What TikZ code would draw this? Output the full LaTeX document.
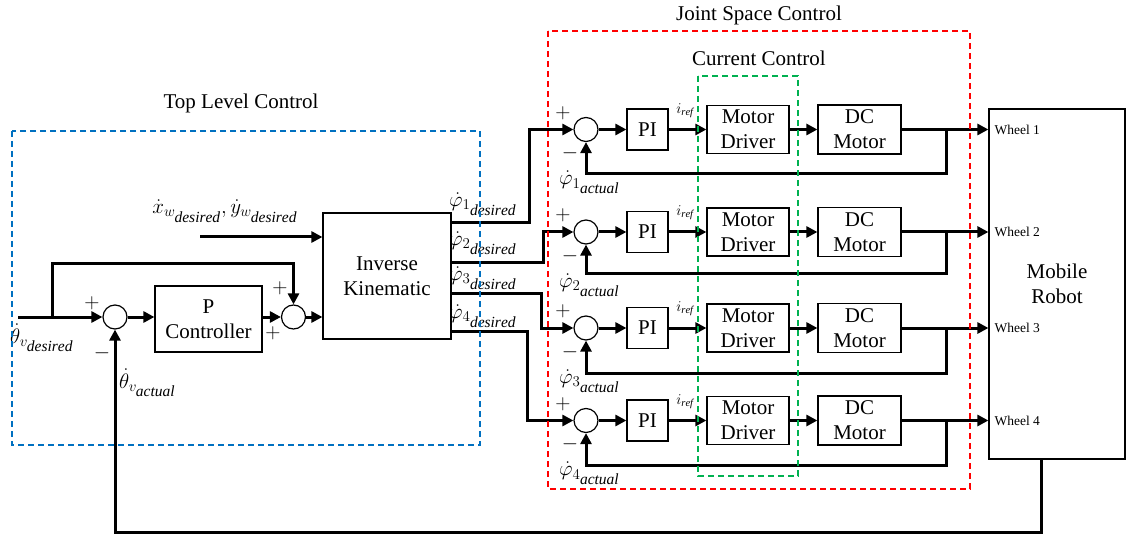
\RequirePackage{fix-cm}
\documentclass[tikz,border=0pt]{standalone}
\usepackage{fontspec}
\setmainfont{Liberation Serif}
\usetikzlibrary{arrows.meta,calc}
\DeclareMathSizes{21}{21}{15}{15.5}
\definecolor{toplevel}{RGB}{0,112,192}
\definecolor{jointspace}{RGB}{255,0,0}
\definecolor{current}{RGB}{0,176,80}

\begin{document}
\begin{tikzpicture}[x=1pt,y=-1pt,
  every node/.style={font=\fontsize{21}{25}\selectfont, inner sep=0pt},
  blk/.style={draw, line width=1.2pt, align=center},
  sumj/.style={circle, draw, line width=1.2pt, minimum size=24pt},
  thk/.style={line width=3pt},
  flow/.style={thk, -{Triangle[length=11pt,width=11pt]}},
  region/.style={dash pattern=on 6pt off 4pt, line width=1.3pt},
  small/.style={font=\fontsize{13.5}{16}\selectfont}]
\useasboundingbox (0,0) rectangle (1126,537);

% ---------- top level control ----------
\node[sumj] (sum1) at (115,317) {};
\node[blk, minimum width=107pt, minimum height=66pt] (pc) at (208.5,319) {P\\Controller};
\node[sumj] (sum2) at (293.5,317) {};
\node[blk, minimum width=128pt, minimum height=126pt] (ik) at (387,276) {Inverse\\Kinematic};

\coordinate (vin) at (18,317);
\coordinate (vbr) at (52,317);
\coordinate (xin) at (200,237);
\draw[flow] (vin) -- (sum1.west);
\draw[flow] (vbr) -- ++(0,-54) -| (sum2.north);
\draw[flow] (sum1.east) -- (pc.west |- sum1.east);
\draw[flow] (pc.east |- sum2.west) -- (sum2.west);
\draw[flow] (sum2.east) -- (ik.west |- sum2.east);
\draw[flow] (xin) -- (ik.west |- xin);

\node[anchor=west] at (10,338) {$\dot{\theta}_{v_{\mathit{desired}}}$};
\node[anchor=west] at (119,383) {$\dot{\theta}_{v_{\mathit{actual}}}$};
\node at (225,211) {$\dot{x}_{w_{\mathit{desired}}},\dot{y}_{w_{\mathit{desired}}}$};
\node at (92,303) {$+$};
\node at (102,353) {$-$};
\node at (280,288) {$+$};
\node at (273,333) {$+$};

% ---------- mobile robot ----------
\node[blk, minimum width=136pt, minimum height=350pt] (mr) at (1057,284) {Mobile\\Robot};

% ---------- joint space control, one loop per wheel ----------
\foreach \i/\y/\fb in {1/129.5/44.5, 2/232/41, 3/328/45, 4/420.5/44.5}{
  \node[sumj] (s\i) at (586,\y) {};
  \node[blk, minimum width=41pt, minimum height=41pt] (pi\i) at (647.5,\y) {PI};
  \node[blk, minimum width=82pt, minimum height=48pt] (md\i) at (748,\y) {Motor\\Driver};
  \node[blk, minimum width=83pt, minimum height=49pt] (dc\i) at (859.5,\y) {DC\\Motor};
  \draw[flow] (s\i.east) -- (pi\i.west);
  \draw[flow] (pi\i.east) -- (md\i.west);
  \draw[flow] (md\i.east) -- (dc\i.west);
  \draw[flow] (dc\i.east) -- (mr.west |- dc\i.east);
  \coordinate (b\i) at ([xshift=45pt]dc\i.east);
  \draw[flow] (b\i) -- ++(0,\fb) -| (s\i.south);
  \node[small, anchor=west] at ([xshift=6pt]mr.west |- dc\i.east) {Wheel \i};
  \node at ({563},{\y-16.5}) {$+$};
  \node at ({570},{\y+24}) {$-$};
  \node[font=\fontsize{15}{17}\selectfont] at ({685},{\y-19}) {$i_{\mathit{ref}}$};
  \node[anchor=west] at ({559},{\y+53}) {$\dot{\varphi}_{\i_{\mathit{actual}}}$};
}

% ---------- inverse kinematic outputs ----------
\coordinate (o1) at ([yshift=53pt]ik.east);
\coordinate (o2) at ([yshift=14pt]ik.east);
\coordinate (o3) at ([yshift=-17pt]ik.east);
\coordinate (o4) at ([yshift=-55pt]ik.east);
\draw[flow] (o1) -- ++(78,0) |- (s1.west);
\draw[flow] (o2) -- ++(92,0) |- (s2.west);
\draw[flow] (o3) -- ++(90,0) |- (s3.west);
\draw[flow] (o4) -- ++(76,0) |- (s4.west);
\node[anchor=west] at (449,204) {$\dot{\varphi}_{1_{\mathit{desired}}}$};
\node[anchor=west] at (449,243) {$\dot{\varphi}_{2_{\mathit{desired}}}$};
\node[anchor=west] at (449,278) {$\dot{\varphi}_{3_{\mathit{desired}}}$};
\node[anchor=west] at (449,316) {$\dot{\varphi}_{4_{\mathit{desired}}}$};

% ---------- velocity feedback ----------
\draw[flow] ([xshift=-16pt]mr.south) -- ++(0,73) -| (sum1.south);

% ---------- control regions ----------
\draw[region, toplevel] (12,131) rectangle (480,445);
\draw[region, jointspace] (548,31) rectangle (970,489);
\draw[region, current] (698,76) rectangle (798,476);
\node at (241,103) {Top Level Control};
\node at (759,15) {Joint Space Control};
\node at (759,58) {Current Control};
\end{tikzpicture}
\end{document}
